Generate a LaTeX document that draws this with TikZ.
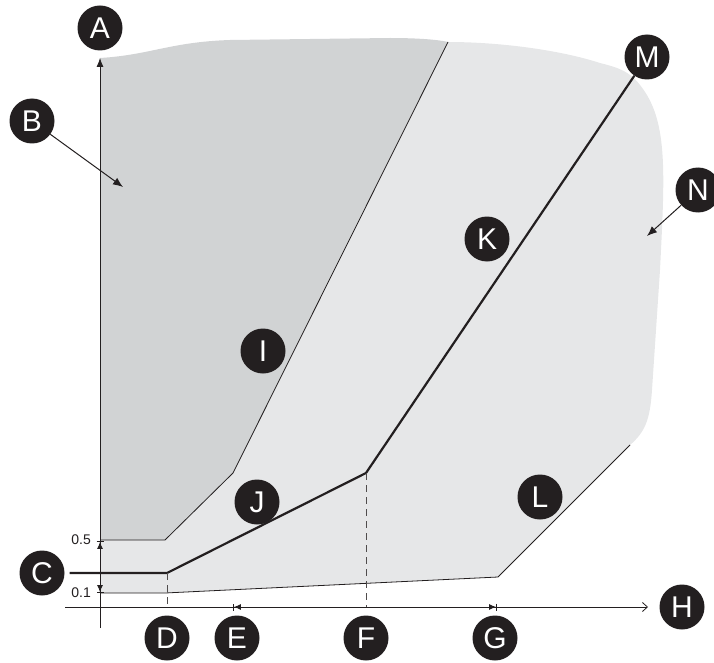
\documentclass[tikz,border=0pt]{standalone}
\usepackage{fontspec}
\setmainfont{Liberation Sans}
\usetikzlibrary{arrows.meta}
\definecolor{darkreg}{HTML}{D1D3D4}
\definecolor{lightreg}{HTML}{E6E7E8}
\definecolor{ink}{HTML}{231F20}
\begin{document}
\begin{tikzpicture}[x=1pt,y=-1pt,
  lbl/.style={circle, fill=ink, text=white, minimum size=45pt, inner sep=0pt, font=\fontsize{30}{30}\selectfont},
  val/.style={anchor=east, inner sep=0pt, text=ink, font=\fontsize{14}{14}\selectfont},
  thinline/.style={ink, line width=0.8pt},
  thickline/.style={ink, line width=2.2pt},
  dashline/.style={ink!80, line width=0.9pt, dash pattern=on 7pt off 5pt},
  dimarrow/.style={ink, line width=1pt, {Bar[width=7pt,line width=0.8pt]Latex[length=7pt,width=6pt]}-{Latex[length=7pt,width=6pt]Bar[width=7pt,line width=0.8pt]}},
  ptr/.style={ink, line width=1pt, -{Latex[length=10pt,width=8pt]}}]
\useasboundingbox (0,0) rectangle (714,663);
% regions
\fill[lightreg] (100,540) -- (100,593) -- (165,593) -- (498,577) -- (630,445)
  .. controls (645,432) and (650,420) .. (652,390) -- (660,270)
  .. controls (665,170) and (668,120) .. (640,85)
  .. controls (630,72) and (620,68) .. (600,63)
  .. controls (560,50) and (500,42) .. (448,42) -- (233,473) -- (165,540) -- cycle;
\fill[darkreg] (100,540) -- (100,58) .. controls (150,55) and (170,42) .. (230,40)
  -- (390,38) .. controls (420,38) and (440,40) .. (448,42) -- (233,473) -- (165,540) -- cycle;
% boundary lines
\draw[thinline] (448,42) -- (233,473) -- (165,540) -- (100,540);
\draw[thinline] (100,593) -- (165,593) -- (498,577) -- (630,445);
% coordinates
\coordinate (kneeD) at (167,573);
\coordinate (kneeF) at (366,473);
\coordinate (yb) at (100,628);
\coordinate (yt) at (100,58);
\coordinate (xl) at (65,607);
\coordinate (xr) at (648,607);
\coordinate (xe) at (233,607);
\coordinate (xg) at (497,607);
\coordinate (xd) at (167,607);
\coordinate (xf) at (366,607);
\coordinate (y5) at (100,541);
\coordinate (y1) at (100,593);
\coordinate (btip) at (123,187);
\coordinate (ntip) at (647,236);
% labels
\node[lbl] (A) at (100,28) {A};
\node[lbl] (B) at (32,121) {B};
\node[lbl] (C) at (42,573) {C};
\node[lbl] (D) at (167,638) {D};
\node[lbl] (E) at (237,638) {E};
\node[lbl] (F) at (366,638) {F};
\node[lbl] (G) at (495,638) {G};
\node[lbl] (H) at (682,607) {H};
\node[lbl] (I) at (263,351) {I};
\node[lbl] (J) at (257,502) {J};
\node[lbl] (K) at (487,239) {K};
\node[lbl] (L) at (540,497) {L};
\node[lbl] (M) at (647,57) {M};
\node[lbl] (N) at (698,190) {N};
\node[val] (v5) at (91,540) {0.5};
\node[val] (v1) at (91,593) {0.1};
% thick curve
\draw[thickline, shorten <=5pt] (C.east) -- (kneeD) -- (kneeF) -- (M);
% dashed
\draw[dashline] (kneeD) -- (xd);
\draw[dashline] (kneeF) -- (xf);
% axes
\draw[thinline, -{Latex[length=9pt,width=7pt]}] (yb) -- (yt);
\draw[thinline, -{Straight Barb[length=5pt,width=9pt]}] (xl) -- (xr);
\draw[dimarrow] (xe) -- (xg);
\draw[dimarrow] (y1) -- (y5);
% pointers
\draw[ptr] (B) -- (btip);
\draw[ptr] (N) -- (ntip);
\end{tikzpicture}
\end{document}
